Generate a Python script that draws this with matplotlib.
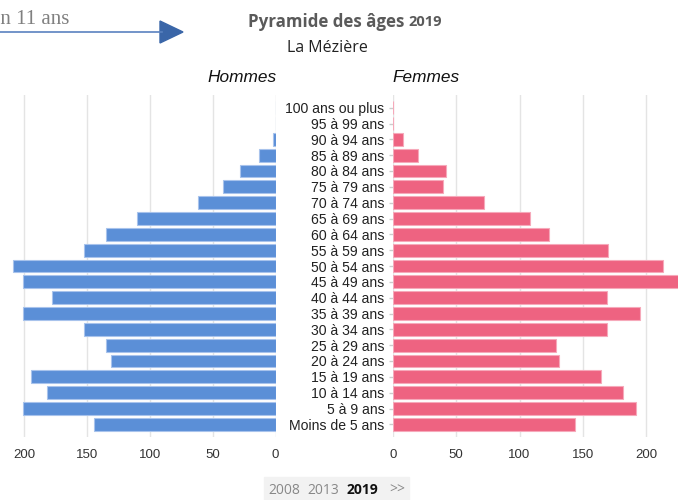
import matplotlib
matplotlib.use('Agg')
import matplotlib.pyplot as plt
from matplotlib.patches import Rectangle, Polygon
from matplotlib.lines import Line2D

# Age groups, bottom to top
ages = ['Moins de 5 ans', '5 à 9 ans', '10 à 14 ans', '15 à 19 ans', '20 à 24 ans',
        '25 à 29 ans', '30 à 34 ans', '35 à 39 ans', '40 à 44 ans', '45 à 49 ans',
        '50 à 54 ans', '55 à 59 ans', '60 à 64 ans', '65 à 69 ans', '70 à 74 ans',
        '75 à 79 ans', '80 à 84 ans', '85 à 89 ans', '90 à 94 ans', '95 à 99 ans',
        '100 ans ou plus']
hommes = [144, 201, 182, 194, 131, 135, 152, 201, 178, 201,
          209, 152, 135, 110, 62, 42, 28, 13, 2, 0, 0]
femmes = [144, 192, 182, 164, 131, 129, 169, 195, 169, 232,
          213, 170, 123, 108, 72, 40, 42, 20, 8, 0, 0]
xticks = [0, 50, 100, 150, 200]

W, H = 678, 500
fig = plt.figure(figsize=(6.78, 5.0), dpi=100)


def box(x0, y0, x1, y1):
    # pixel box (top-left origin) -> figure fraction
    return [x0 / W, 1 - y1 / H, (x1 - x0) / W, (y1 - y0) / H]


blue = '#5b8fd7'
pink = '#ee6381'
grid = '#e4e4e4'
ypos = list(range(len(ages)))

axl = fig.add_axes(box(0, 95, 275.5, 437))
axr = fig.add_axes(box(392.7, 95, 678, 437))

axl.barh(ypos, hommes, height=0.82, color=blue, edgecolor='#a8c3ec', linewidth=0.8, zorder=3)
axr.barh(ypos, femmes, height=0.82, color=pink, edgecolor='#f6a9ba', linewidth=0.8, zorder=3)

axl.set_xlim(219, 0)
axr.set_xlim(0, 225)
for ax in (axl, axr):
    ax.set_ylim(-0.8, len(ages) - 0.2)
    ax.set_xticks(xticks)
    ax.set_xticklabels([str(t) for t in xticks], fontsize=9.5, color='#333333',
                       family='Liberation Sans')
    ax.tick_params(axis='x', length=0, pad=8.5)
    ax.grid(axis='x', color=grid, linewidth=1, zorder=0)
    for s in ax.spines.values():
        s.set_visible(False)
    ax.set_facecolor('none')

axl.set_yticks([])
axr.set_yticks(ypos)
axr.set_yticklabels(ages, fontsize=10.1, color='#222222', family='Liberation Sans')
axr.tick_params(axis='y', length=3, color='#cccccc', width=1, pad=3)

# headers
fig.text(242 / W, 1 - 77 / H, 'Hommes', ha='center', va='center', fontsize=12.4,
         style='italic', family='Liberation Sans', color='#111111')
fig.text(426 / W, 1 - 77 / H, 'Femmes', ha='center', va='center', fontsize=12.4,
         style='italic', family='Liberation Sans', color='#111111')

# title
fig.text(404 / W, 1 - 22 / H, 'Pyramide des âges', ha='right', va='center', fontsize=12.2,
         fontweight='bold', family='Open Sans', color='#5a5a5a')
fig.text(408 / W, 1 - 22.5 / H, '2019', ha='left', va='center', fontsize=10.5,
         fontweight='bold', family='Open Sans', color='#5a5a5a')
fig.text(327.5 / W, 1 - 48 / H, 'La Mézière', ha='center', va='center', fontsize=11.5,
         family='Open Sans', color='#222222')

# cropped annotation with arrow at top left
fig.text(69 / W, 1 - 20 / H, 'en 11 ans', ha='right', va='center', fontsize=15,
         family='Liberation Serif', color='#808080')
fig.add_artist(Line2D([0, 162 / W], [1 - 32 / H, 1 - 32 / H], color='#5a82c0',
                      linewidth=1.2, transform=fig.transFigure))
fig.add_artist(Polygon([[160 / W, 1 - 21 / H], [183 / W, 1 - 32 / H], [160 / W, 1 - 43 / H]],
                       closed=True, color='#3a66a8', transform=fig.transFigure))

# year selector at bottom
fig.add_artist(Rectangle((264 / W, 0), 145 / W, 23 / H, color='#f2f2f2',
                         transform=fig.transFigure, zorder=0))
yb = 1 - 490.5 / H
fig.text(268 / W, yb, '2008', ha='left', va='center', fontsize=10, family='Open Sans', color='#888888')
fig.text(307 / W, yb, '2013', ha='left', va='center', fontsize=10, family='Open Sans', color='#888888')
fig.text(347 / W, yb, '2019', ha='left', va='center', fontsize=10, family='Open Sans',
         fontweight='bold', color='#111111')
fig.text(389 / W, yb, '>>', ha='left', va='center', fontsize=10, family='Open Sans', color='#888888')

fig.savefig('out.png', dpi=100)
